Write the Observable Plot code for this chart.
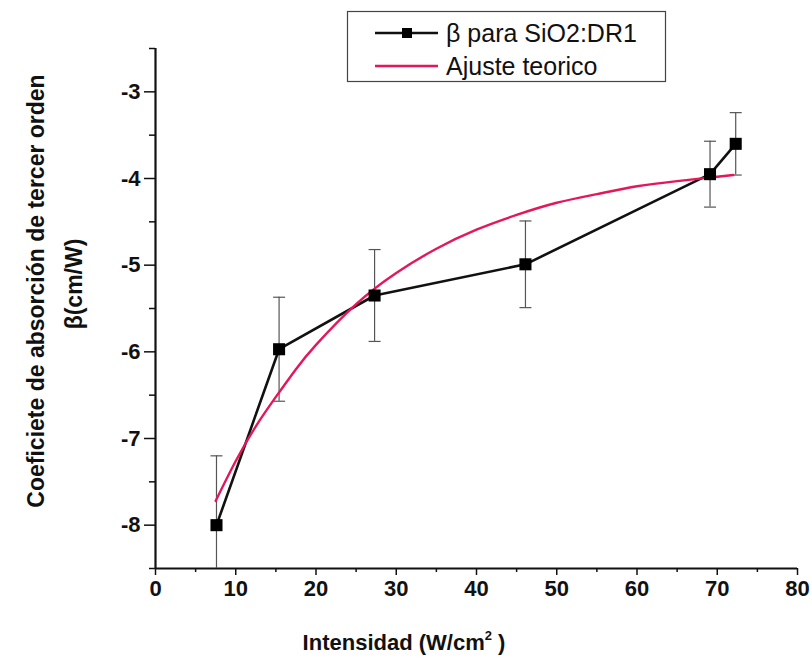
<!DOCTYPE html>
<html>
<head>
<meta charset="utf-8">
<script src="https://cdn.jsdelivr.net/npm/d3@7"></script>
<script src="https://cdn.jsdelivr.net/npm/@observablehq/plot@0.6"></script>
<style>
  html, body { margin: 0; padding: 0; background: #fff; }
  #chart { width: 812px; height: 658px; }
</style>
</head>
<body>
<div id="chart"></div>
<script>
// Measured third-order absorption coefficient vs. intensity
const intensity = [7.6, 15.4, 27.3, 46.1, 69.1, 72.3];
const beta      = [-8.0, -5.97, -5.35, -4.99, -3.95, -3.6];
const betaErr   = [0.8, 0.6, 0.53, 0.5, 0.38, 0.36];

// Theoretical fit curve, sampled along its length
const fitX = [7.5, 10, 12.5, 15, 17.5, 20, 25, 30, 35, 40, 45, 50, 55, 60, 65, 70, 72];
const fitY = [-7.72, -7.26, -6.86, -6.52, -6.2, -5.92, -5.45, -5.09, -4.81, -4.59, -4.42, -4.28, -4.18, -4.09, -4.03, -3.98, -3.96];

// Axis ticks
const xTicks = [0, 10, 20, 30, 40, 50, 60, 70, 80];
const xMinor = [5, 15, 25, 35, 45, 55, 65, 75];
const yTicks = [-8, -7, -6, -5, -4, -3];
const yMinor = [-8.5, -7.5, -6.5, -5.5, -4.5, -3.5, -2.5];

const points = intensity.map((x, i) => ({x, y: beta[i], lo: beta[i] - betaErr[i], hi: beta[i] + betaErr[i]}));
const fit = fitX.map((x, i) => ({x, y: fitY[i]}));

const fitColor = "#e3175a";
const font = "'Liberation Sans', Arial, Helvetica, sans-serif";

// horizontal cap for error bars
const capSymbol = { draw(ctx) { ctx.moveTo(-6, 0); ctx.lineTo(6, 0); } };

const chart = Plot.plot({
  width: 812,
  height: 658,
  marginLeft: 155,
  marginRight: 15,
  marginTop: 48,
  marginBottom: 90,
  style: { fontFamily: font, background: "#fff", color: "#111" },
  x: { domain: [0, 80] },
  y: { domain: [-8.5, -2.5] },
  marks: [
    Plot.axisX({ ticks: xMinor, tickSize: 4, text: null, strokeWidth: 1.5, label: null }),
    Plot.axisX({ ticks: xTicks, tickSize: 7, tickPadding: 5, tickFormat: d => String(d),
                 fontSize: 22, fontWeight: "bold", strokeWidth: 1.5, label: null }),
    Plot.axisY({ ticks: yMinor, tickSize: 6, text: null, strokeWidth: 1.5, label: null }),
    Plot.axisY({ ticks: yTicks, tickSize: 11, tickPadding: 4, tickFormat: d => String(d),
                 fontSize: 22, fontWeight: "bold", strokeWidth: 1.5, label: null }),
    Plot.ruleX([0], { stroke: "#111", strokeWidth: 2.2 }),
    Plot.ruleY([-8.5], { stroke: "#111", strokeWidth: 2.2 }),
    // error bars
    Plot.ruleX(points, { x: "x", y1: "lo", y2: "hi", stroke: "#555", strokeWidth: 1.2, clip: true }),
    Plot.dot(points, { x: "x", y: "hi", symbol: capSymbol, stroke: "#555", strokeWidth: 1.2, clip: true }),
    Plot.dot(points, { x: "x", y: "lo", symbol: capSymbol, stroke: "#555", strokeWidth: 1.2, clip: true }),
    // measured series
    Plot.line(points, { x: "x", y: "y", stroke: "#111", strokeWidth: 2.6 }),
    // theoretical fit
    Plot.line(fit, { x: "x", y: "y", stroke: fitColor, strokeWidth: 2.4, curve: "natural" }),
    Plot.dot(points, { x: "x", y: "y", symbol: "square", r: 6.8, fill: "#000", stroke: "none" })
  ]
});

document.getElementById("chart").appendChild(chart);

const svg = d3.select(chart);

// axis titles
svg.append("text")
  .attr("x", 404).attr("y", 650)
  .attr("text-anchor", "middle")
  .attr("font-family", font).attr("font-size", 22).attr("font-weight", "bold").attr("fill", "#111")
  .call(t => {
    t.append("tspan").text("Intensidad (W/cm");
    t.append("tspan").attr("font-size", 13).attr("dy", -10).text("2");
    t.append("tspan").attr("dy", 10).text(" )");
  });

svg.append("text")
  .attr("transform", "translate(44,291) rotate(-90)")
  .attr("text-anchor", "middle")
  .attr("font-family", font).attr("font-size", 23).attr("font-weight", "bold").attr("fill", "#111")
  .text("Coeficiete de absorción de tercer orden");

svg.append("text")
  .attr("transform", "translate(82,284) rotate(-90)")
  .attr("text-anchor", "middle")
  .attr("font-family", font).attr("font-size", 23).attr("font-weight", "bold").attr("fill", "#111")
  .text("β(cm/W)");

// legend
const lg = svg.append("g").attr("font-family", font).attr("font-size", 25).attr("fill", "#111")
  .attr("text-anchor", "start");
lg.append("rect").attr("x", 347.5).attr("y", 11.5).attr("width", 318).attr("height", 70)
  .attr("fill", "#fff").attr("stroke", "#444").attr("stroke-width", 1.2);
lg.append("line").attr("x1", 375).attr("x2", 438).attr("y1", 33).attr("y2", 33)
  .attr("stroke", "#111").attr("stroke-width", 2.6);
lg.append("rect").attr("x", 402).attr("y", 28).attr("width", 10).attr("height", 10).attr("fill", "#000");
lg.append("text").attr("x", 446).attr("y", 42).text("β para SiO2:DR1");
lg.append("line").attr("x1", 375).attr("x2", 438).attr("y1", 66).attr("y2", 66)
  .attr("stroke", fitColor).attr("stroke-width", 2.4);
lg.append("text").attr("x", 446).attr("y", 75).text("Ajuste teorico");
</script>
</body>
</html>
